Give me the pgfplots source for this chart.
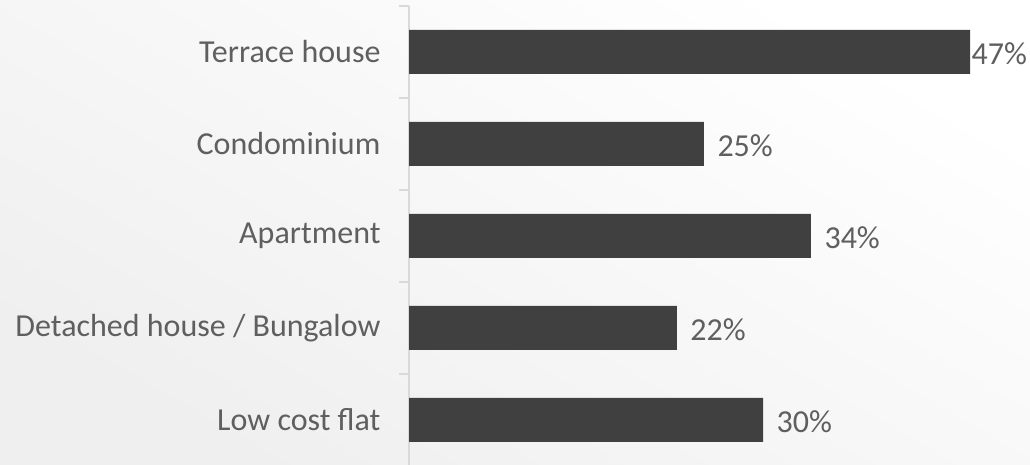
\documentclass[border=0pt]{standalone}
\usepackage{fontspec}
\setmainfont{Carlito}
\usepackage{pgfplots}
\pgfplotsset{compat=1.18}
\definecolor{barc}{HTML}{404040}
\definecolor{txt}{HTML}{5F5F5F}
\definecolor{axc}{HTML}{D9D9D9}
\definecolor{bgg}{HTML}{EFEFEF}
\begin{document}
\begin{tikzpicture}[x=1pt,y=1pt]
\useasboundingbox (0,0) rectangle (1030,465);
\shade[shading=axis, top color=white, bottom color=bgg, shading angle=-30] (0,0) rectangle (1030,465);
\begin{axis}[
 at={(409pt,-1pt)}, anchor=south west, scale only axis,
 width=619pt, height=460pt,
 xmin=0, xmax=52, ymin=-0.5, ymax=4.5,
 xbar, bar width=44pt,
 clip=false,
 axis x line=none,
 axis y line*=left,
 y axis line style={axc, line width=1.5pt, -},
 ytick={0,...,4},
 yticklabels={Low cost flat, Detached house / Bungalow, Apartment, Condominium, Terrace house},
 major tick length=0pt,
 minor ytick={-0.5,0.5,...,4.5},
 minor tick length=10pt,
 tick align=outside,
 minor tick style={axc, line width=1.5pt},
 /pgf/number format/assume math mode=true,
 yticklabel style={font=\fontsize{32}{36}\selectfont, text=txt, xshift=-25pt},
 visualization depends on={\thisrow{off} \as \off},
 nodes near coords={\pgfmathprintnumber{\pgfplotspointmeta}\%},
 nodes near coords style={font=\fontsize{32}{36}\selectfont, text=txt, anchor=west, xshift=\off pt, yshift=-2pt},
 point meta=explicit,
]
\addplot[fill=barc, draw=none] table[x=x, y=y, meta=lab] {
x y lab off
29.74 0 30 10
22.51 1 22 10
33.77 2 34 10
24.78 3 25 10
47.13 4 47 -2
};
\end{axis}
\end{tikzpicture}
\end{document}
